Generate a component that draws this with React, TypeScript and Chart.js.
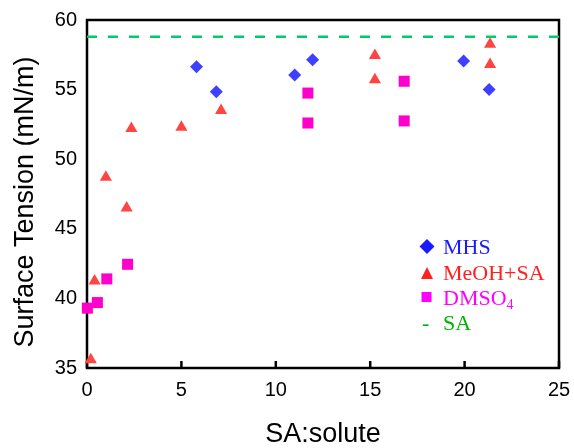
import { useEffect, useRef } from "react";
import { Chart, registerables } from "chart.js";
Chart.register(...registerables);

const MHS_X = [5.8, 6.85, 11.0, 11.95, 19.95, 21.3];
const MHS_Y = [56.65, 54.85, 56.05, 57.15, 57.05, 55.0];
const MEOH_X = [0.2, 0.4, 1.0, 2.1, 2.35, 5.0, 7.1, 15.25, 15.25, 21.35, 21.35];
const MEOH_Y = [35.6, 41.25, 48.7, 46.5, 52.2, 52.3, 53.5, 57.45, 55.7, 58.25, 56.8];
const DMSO_X = [0.02, 0.55, 1.05, 2.15, 11.7, 11.7, 16.8, 16.8];
const DMSO_Y = [39.3, 39.7, 41.4, 42.45, 54.75, 52.6, 55.6, 52.75];
const SA_VALUE = 58.8;
const X_RANGE = [0, 25];
const Y_RANGE = [35, 60];
const TICK_STEP = 5;
const Y_TITLE = "Surface Tension (mN/m)";
const X_TITLE = "SA:solute";

const C_MHS = "#3f3fff";
const C_MEOH = "#ff4444";
const C_DMSO = "#ff00cc";
const C_SA = "#00cc66";

const pts = (xs: number[], ys: number[]) => xs.map((x, i) => ({ x, y: ys[i] }));

const framePlugin = {
  id: "frame",
  beforeDatasetsDraw(chart: any) {
    const { ctx, chartArea: a, scales } = chart;
    ctx.save();
    ctx.strokeStyle = "#000";
    ctx.lineWidth = 2.5;
    ctx.strokeRect(a.left, a.top, a.right - a.left, a.bottom - a.top);
    const xs = scales.x;
    xs.ticks.forEach((t: any) => {
      const px = xs.getPixelForValue(t.value);
      ctx.beginPath();
      ctx.moveTo(px, a.bottom);
      ctx.lineTo(px, a.bottom - 7);
      ctx.stroke();
    });
    ctx.restore();
  },
  afterDraw(chart: any) {
    const { ctx } = chart;
    ctx.save();
    // y-axis title
    ctx.save();
    ctx.translate(33, 202);
    ctx.rotate(-Math.PI / 2);
    ctx.font = "27px 'Liberation Sans'";
    ctx.fillStyle = "#000";
    ctx.textAlign = "center";
    ctx.textBaseline = "alphabetic";
    ctx.fillText(Y_TITLE, 0, 0);
    ctx.restore();

    const font = "22px 'Liberation Serif'";
    const tx = 443;
    const mx = 427;
    ctx.textBaseline = "alphabetic";
    ctx.textAlign = "left";
    // MHS
    ctx.fillStyle = "#1a1aff";
    ctx.beginPath();
    ctx.moveTo(mx, 239);
    ctx.lineTo(mx + 7.5, 246.5);
    ctx.lineTo(mx, 254);
    ctx.lineTo(mx - 7.5, 246.5);
    ctx.closePath();
    ctx.fill();
    ctx.font = font;
    ctx.fillText("MHS", tx, 254);
    // MeOH+SA
    ctx.fillStyle = "#ff2020";
    ctx.beginPath();
    ctx.moveTo(mx, 267);
    ctx.lineTo(mx + 6, 279);
    ctx.lineTo(mx - 6, 279);
    ctx.closePath();
    ctx.fill();
    ctx.fillText("MeOH+SA", tx, 280);
    // DMSO4
    ctx.fillStyle = "#ff00ff";
    ctx.fillRect(mx - 5.5, 292, 10, 10);
    ctx.fillText("DMSO", tx, 305);
    const w = ctx.measureText("DMSO").width;
    ctx.font = "14px 'Liberation Serif'";
    ctx.fillText("4", tx + w, 309);
    // SA
    ctx.font = font;
    ctx.fillStyle = "#00b300";
    ctx.fillText("-", mx - 5, 330);
    ctx.fillText("SA", tx, 330);
    ctx.restore();
  },
};

export default function App() {
  const ref = useRef<HTMLCanvasElement>(null);
  useEffect(() => {
    const chart = new Chart(ref.current!, {
      type: "scatter",
      data: {
        datasets: [
          {
            label: "SA",
            type: "line",
            data: [
              { x: X_RANGE[0], y: SA_VALUE },
              { x: X_RANGE[1], y: SA_VALUE },
            ],
            borderColor: C_SA,
            borderWidth: 2.5,
            borderDash: [10, 11],
            pointRadius: 0,
            fill: false,
          } as any,
          {
            label: "MHS",
            data: pts(MHS_X, MHS_Y),
            pointStyle: "rectRot",
            pointRadius: 6.5,
            backgroundColor: C_MHS,
            borderWidth: 0,
            clip: false,
          } as any,
          {
            label: "MeOH+SA",
            data: pts(MEOH_X, MEOH_Y),
            pointStyle: "triangle",
            pointRadius: 7,
            backgroundColor: C_MEOH,
            borderWidth: 0,
            clip: false,
          } as any,
          {
            label: "DMSO4",
            data: pts(DMSO_X, DMSO_Y),
            pointStyle: "rect",
            pointRadius: 7.8,
            backgroundColor: C_DMSO,
            borderWidth: 0,
            clip: false,
          } as any,
        ],
      },
      options: {
        responsive: false,
        animation: false,
        events: [],
        layout: { padding: { top: 20, right: 0, left: 0, bottom: 0 } },
        plugins: { legend: { display: false }, tooltip: { enabled: false } },
        scales: {
          x: {
            type: "linear",
            min: X_RANGE[0],
            max: X_RANGE[1],
            ticks: {
              stepSize: TICK_STEP,
              color: "#000",
              padding: 10,
              font: { family: "'Liberation Sans'", size: 20 },
            },
            grid: { display: false, drawTicks: false },
            border: { display: false },
            title: {
              display: true,
              text: X_TITLE,
              color: "#000",
              padding: { top: 0, bottom: 0 },
              font: { family: "'Liberation Sans'", size: 27, lineHeight: 1 },
            },
            afterFit: (s: any) => {
              s.height = 80;
              s.paddingLeft = 0;
              s.paddingRight = 15;
            },
          },
          y: {
            type: "linear",
            min: Y_RANGE[0],
            max: Y_RANGE[1],
            ticks: {
              stepSize: TICK_STEP,
              color: "#000",
              padding: 10,
              font: { family: "'Liberation Sans'", size: 20 },
            },
            grid: { display: false, drawTicks: false },
            border: { display: false },
            title: { display: false },
            afterFit: (s: any) => {
              s.width = 87;
              s.paddingTop = 0;
              s.paddingBottom = 0;
            },
          },
        },
      },
      plugins: [framePlugin],
    });
    return () => chart.destroy();
  }, []);
  return (
    <div style={{ position: "absolute", left: 0, top: 0, width: 574, height: 448, background: "#fff" }}>
      <canvas ref={ref} width={574} height={448} />
    </div>
  );
}
